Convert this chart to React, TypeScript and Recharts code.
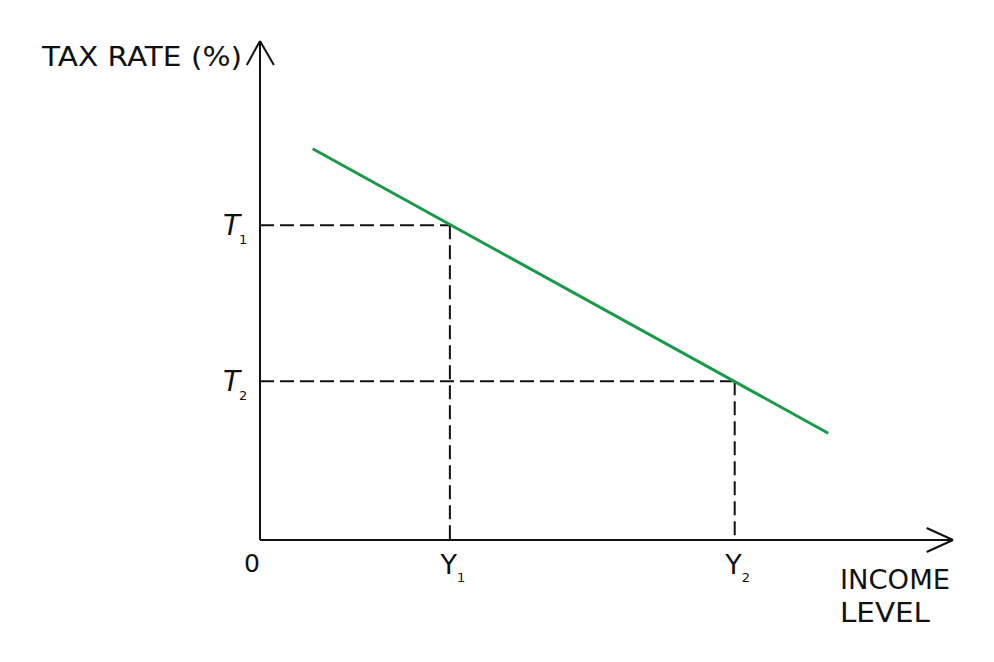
import React from 'react'
import {
  ComposedChart, Line, XAxis, YAxis, ReferenceLine,
} from 'recharts'

// values are on a 0–100 scale for both axes (axis arrow tips at 100)
const incomeTicks = [0, 27.4, 68.5]
const incomeTickLabels = ['0', 'Y|1', 'Y|2']
const taxTicks = [31.8, 63.1]
const taxTickLabels = ['T|2', 'T|1']

const lineIncome = [7.6, 82.0]
const lineTax = [78.4, 21.4]

const chartData = lineIncome.map((x, i) => ({ income: x, tax: lineTax[i] }))

const FONT = '"DejaVu Sans", "Noto Sans", sans-serif'
const INK = '#111'
const GREEN = '#1a9a48'

const splitLabel = (s: string) => s.split('|')

function XTick(props: any) {
  const { x, y, payload } = props
  const idx = incomeTicks.indexOf(payload.value)
  const [main, sub] = splitLabel(incomeTickLabels[idx] ?? '')
  if (!sub) {
    return (
      <text x={x - 8} y={y + 24} textAnchor="middle" fontFamily={FONT} fontSize={25} fill={INK}>
        {main}
      </text>
    )
  }
  return (
    <text x={x + 3} y={y + 26} textAnchor="middle" fontFamily={FONT} fontSize={27} fill={INK}>
      {main}
      <tspan dx={0} dy={8} fontSize={13}>{sub}</tspan>
    </text>
  )
}

function YTick(props: any) {
  const { x, y, payload } = props
  const idx = taxTicks.indexOf(payload.value)
  const [main, sub] = splitLabel(taxTickLabels[idx] ?? '')
  return (
    <text x={x - 29} y={y + 10} textAnchor="start" fontFamily={FONT} fontSize={28} fill={INK}>
      <tspan fontStyle="italic">{main}</tspan>
      <tspan dx={-1} dy={9} fontSize={13}>{sub}</tspan>
    </text>
  )
}

export default function App() {
  const dash = '14 6'
  return (
    <div style={{ position: 'absolute', left: 0, top: 0, background: '#fff' }}>
      <ComposedChart
        width={994}
        height={662}
        data={chartData}
        margin={{ top: 41, right: 41, left: 0, bottom: 62 }}
      >
        <XAxis
          type="number"
          dataKey="income"
          domain={[0, 100]}
          allowDataOverflow
          ticks={incomeTicks}
          tick={<XTick />}
          tickLine={false}
          axisLine={{ stroke: INK, strokeWidth: 2 }}
          height={60}
          label={{
            content: () => (
              <g fontFamily={FONT} fontSize={27} fill={INK}>
                <text x={840} y={589} textLength={110} lengthAdjust="spacingAndGlyphs">INCOME</text>
                <text x={840} y={622} textLength={90} lengthAdjust="spacingAndGlyphs">LEVEL</text>
              </g>
            ),
          }}
        />
        <YAxis
          type="number"
          domain={[0, 100]}
          allowDataOverflow
          ticks={taxTicks}
          tick={<YTick />}
          tickLine={false}
          axisLine={{ stroke: INK, strokeWidth: 2 }}
          width={260}
          label={{
            content: () => (
              <text
                x={42}
                y={66}
                fontFamily={FONT}
                fontSize={27}
                fill={INK}
                textLength={200}
                lengthAdjust="spacingAndGlyphs"
              >
                TAX RATE (%)
              </text>
            ),
          }}
        />

        {/* guide lines */}
        <ReferenceLine segment={[{ x: 0, y: taxTicks[1] }, { x: incomeTicks[1], y: taxTicks[1] }]} stroke={INK} strokeWidth={2} strokeDasharray={dash} />
        <ReferenceLine segment={[{ x: incomeTicks[1], y: taxTicks[1] }, { x: incomeTicks[1], y: 0 }]} stroke={INK} strokeWidth={2} strokeDasharray={dash} />
        <ReferenceLine segment={[{ x: 0, y: taxTicks[0] }, { x: incomeTicks[2], y: taxTicks[0] }]} stroke={INK} strokeWidth={2} strokeDasharray={dash} />
        <ReferenceLine segment={[{ x: incomeTicks[2], y: taxTicks[0] }, { x: incomeTicks[2], y: 0 }]} stroke={INK} strokeWidth={2} strokeDasharray={dash} />

        {/* arrow heads */}
        <ReferenceLine ifOverflow="visible" segment={[{ x: -1.9, y: 95.2 }, { x: 0, y: 100 }]} stroke={INK} strokeWidth={2} />
        <ReferenceLine ifOverflow="visible" segment={[{ x: 2.0, y: 95.2 }, { x: 0, y: 100 }]} stroke={INK} strokeWidth={2} />
        <ReferenceLine ifOverflow="visible" segment={[{ x: 96.2, y: 2.4 }, { x: 100, y: 0 }]} stroke={INK} strokeWidth={2} />
        <ReferenceLine ifOverflow="visible" segment={[{ x: 96.2, y: -2.4 }, { x: 100, y: 0 }]} stroke={INK} strokeWidth={2} />

        <Line
          type="linear"
          dataKey="tax"
          stroke={GREEN}
          strokeWidth={3}
          dot={false}
          isAnimationActive={false}
        />
      </ComposedChart>
    </div>
  )
}
